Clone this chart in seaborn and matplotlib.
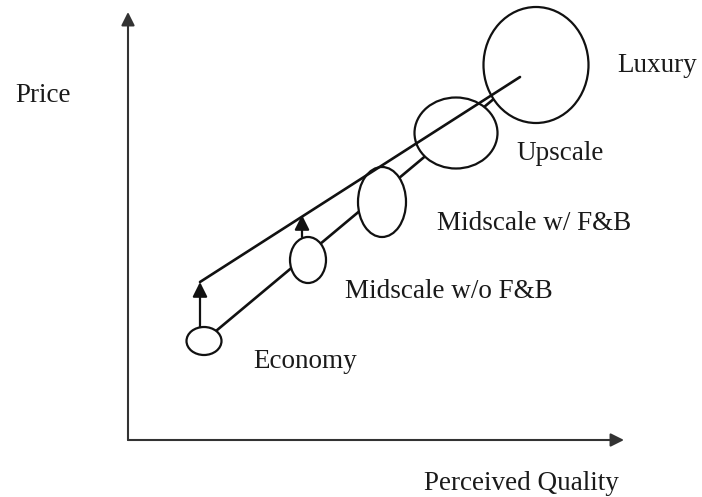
import numpy as np
import pandas as pd
import matplotlib
matplotlib.use("Agg")
import matplotlib.pyplot as plt
from matplotlib.patches import Ellipse
import seaborn as sns

# segments (centre, spread along quality / price)
segments = ["Economy", "Midscale w/o F&B", "Midscale w/ F&B", "Upscale", "Luxury"]
quality = [204, 308, 382, 456, 536]
price = [156, 237, 295, 364, 432]
spread_q = [35, 36, 48, 83, 105]
spread_p = [28, 46, 70, 71, 116]

# perceived price line (upper) and actual line (lower)
upper_q = [200, 520]
upper_p = [215, 420]
lower_q = [204, 520]
lower_p = [156, 420]

# gap arrows (from, to)
gap_q = [200, 302]
gap_from = [170, 260]
gap_to = [215, 282]

# label anchors
label_q = [253, 345, 437, 516, 617]
label_p = [136, 206, 273, 343, 431]

sns.set_style("white")
plt.rcParams['font.family'] = ['Liberation Serif', 'DejaVu Serif']

fig = plt.figure(figsize=(7.02, 4.97), dpi=100)
ax = fig.add_axes([0, 0, 1, 1])
ax.set_xlim(0, 702)
ax.set_ylim(0, 497)
ax.axis("off")

lines = pd.DataFrame({
    "q": lower_q + upper_q,
    "p": lower_p + upper_p,
    "line": ["lower"] * 2 + ["upper"] * 2,
})
sns.lineplot(data=lines[lines.line == "lower"], x="q", y="p", color="#111",
             lw=1.9, ax=ax, zorder=2, legend=False)
sns.lineplot(data=lines[lines.line == "upper"], x="q", y="p", color="#111",
             lw=1.9, ax=ax, zorder=4, legend=False)

for q, p, w, h in zip(quality, price, spread_q, spread_p):
    ax.add_patch(Ellipse((q, p), w, h, facecolor="white", edgecolor="#111",
                         lw=1.6, zorder=3))

arrow = dict(arrowstyle="-|>", mutation_scale=22, lw=1.6, color="#111",
             shrinkA=0, shrinkB=0)
for q, a, b in zip(gap_q, gap_from, gap_to):
    ax.annotate("", xy=(q, b), xytext=(q, a), arrowprops=arrow, zorder=5)

# axes with arrows
axis_arrow = dict(arrowstyle="-|>", mutation_scale=20, lw=1.5, color="#333",
                  shrinkA=0, shrinkB=0)
ax.annotate("", xy=(128, 485), xytext=(128, 57), arrowprops=axis_arrow)
ax.annotate("", xy=(624, 57), xytext=(128, 57), arrowprops=axis_arrow)

for name, q, p in zip(segments, label_q, label_p):
    ax.text(q, p, name, fontsize=19.5, ha="left", va="center", color="#1a1a1a")

ax.text(15, 401, "Price", fontsize=19.5, ha="left", va="center", color="#1a1a1a")
ax.text(424, 14, "Perceived Quality", fontsize=19.5, ha="left", va="center",
        color="#1a1a1a")

fig.savefig("out.png", dpi=100)
